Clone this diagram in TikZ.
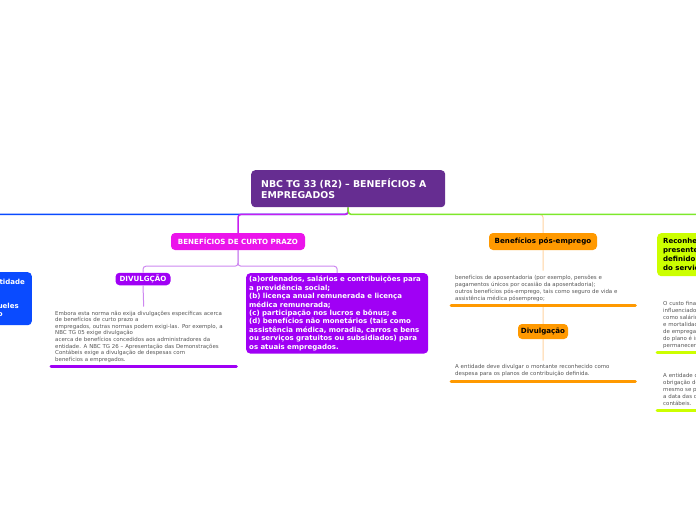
\documentclass[tikz,border=0pt]{standalone}
\usepackage{fontspec}
\setmainfont{DejaVu Sans}
\definecolor{rootc}{RGB}{102,45,145}
\definecolor{bluec}{RGB}{10,75,255}
\definecolor{magc}{RGB}{235,20,235}
\definecolor{violc}{RGB}{160,0,245}
\definecolor{violline}{RGB}{205,135,240}
\definecolor{purpline}{RGB}{200,30,240}
\definecolor{orc}{RGB}{255,153,0}
\definecolor{orline}{RGB}{255,210,160}
\definecolor{limec}{RGB}{204,255,0}
\definecolor{greenl}{RGB}{125,232,44}
\definecolor{graytext}{RGB}{85,85,85}
\tikzset{
  mainline/.style={line width=1.5pt, rounded corners=3pt},
  subline/.style={line width=1pt, rounded corners=3pt},
  topicbox/.style={rounded corners=4pt, font=\fontsize{7.1}{8.5}\selectfont\bfseries, inner sep=0pt, align=center},
  notetext/.style={anchor=north west, align=left, text=graytext, inner xsep=4pt, inner ysep=4pt,
    font=\fontsize{5.45}{7}\selectfont},
  underl/.style={line width=3pt, line cap=round},
}
\begin{document}
\begin{tikzpicture}[x=1pt,y=-1pt]
\useasboundingbox (0,0) rectangle (696,520);
\clip (0,0) rectangle (696,520);

% root
\node[anchor=north west, fill=rootc, rounded corners=4pt, text=white, minimum width=194pt, minimum height=37pt,
  text width=174pt, inner xsep=10pt, inner ysep=0pt, align=left, font=\fontsize{9.4}{10.3}\selectfont\bfseries]
  (root) at (251,170) {NBC TG 33 (R2) – BENEFÍCIOS A\\EMPREGADOS};

% blue branch (cut off at left)
\node[anchor=north east, fill=bluec, rounded corners=4pt, text=white, align=right, inner xsep=7pt, inner ysep=5pt,
  minimum height=53pt, font=\fontsize{7}{8}\selectfont\bfseries]
  (blue) at (32,272) {Benefícios rescisórios: são devidos pela entidade\\
  em razão do término do vínculo\kern40pt\\
  empregatício, e são distintos\kern40pt\\
  dos demais benefícios e daqueles\kern6pt\\
  pós-emprego\kern22pt};

% short-term benefits
\node[topicbox, fill=magc, text=white, minimum width=134pt, minimum height=17pt] (curto) at (238,241.5) {BENEFÍCIOS DE CURTO PRAZO};
\node[topicbox, fill=violc, text=white, minimum width=55pt, minimum height=12.5pt] (divul) at (143,279) {DIVULGÇÃO};
\node[anchor=north west, fill=violc, rounded corners=4pt, text=white, text width=176pt, inner xsep=3pt, inner ysep=3pt,
  align=left, font=\fontsize{7}{8.4}\selectfont\bfseries] (lista) at (246,273)
  {(a)ordenados, salários e contribuições para\\
   a previdência social;\\
   (b) licença anual remunerada e licença\\
   médica remunerada;\\
   (c) participação nos lucros e bônus; e\\
   (d) benefícios não monetários (tais como\\
   assistência médica, moradia, carros e bens\\
   ou serviços gratuitos ou subsidiados) para\\
   os atuais empregados.};
\node[notetext, text width=177pt, font=\fontsize{5.45}{6.6}\selectfont] (t1) at (51,306.5)
  {Embora esta norma não exija divulgações específicas acerca\\
   de benefícios de curto prazo a\\
   empregados, outras normas podem exigi-las. Por exemplo, a\\
   NBC TG 05 exige divulgação\\
   acerca de benefícios concedidos aos administradores da\\
   entidade. A NBC TG 26 – Apresentação das Demonstrações\\
   Contábeis exige a divulgação de despesas com\\
   benefícios a empregados.};

% post-employment
\node[topicbox, fill=orc, text=black, minimum width=108pt, minimum height=17pt] (pos) at (543,241.5) {Benefícios pós-emprego};
\node[notetext, text width=176pt] (o1) at (451,270.5)
  {benefícios de aposentadoria (por exemplo, pensões e\\
   pagamentos únicos por ocasião da aposentadoria);\\
   outros benefícios pós-emprego, tais como seguro de vida e\\
   assistência médica pósemprego;};
\node[topicbox, fill=orc, text=black, minimum width=50pt, minimum height=15pt] (divul2) at (543,331.5) {Divulgação};
\node[notetext, text width=176pt] (o2) at (451,360.5)
  {A entidade deve divulgar o montante reconhecido como\\
   despesa para os planos de contribuição definida.};

% recognition (cut off at right)
\node[anchor=north west, fill=limec, rounded corners=4pt, text=black, text width=170pt, inner xsep=6pt, inner ysep=2pt,
  minimum height=43pt, align=left, font=\fontsize{7}{9}\selectfont\bfseries] (recon) at (657,233)
  {Reconhecimento e mensuração: valor\\
   presente das obrigações de benefício\\
   definido e custo\\
   do serviço corrente};
\node[notetext, text width=200pt, inner xsep=6pt] (g1) at (657,296.5)
  {O custo final de um plano de benefício definido pode ser\\
   influenciado por muitas variáveis, tais\\
   como salários finais, rotatividade\\
   e mortalidade de empregados, contribuições\\
   de empregados e tendências de custos médicos. O custo final\\
   do plano é incerto e essa incerteza provavelmente\\
   permanecerá por longo período de tempo.};
\node[notetext, text width=200pt, inner xsep=6pt] (g2) at (657,369.5)
  {A entidade deve determinar o valor presente da\\
   obrigação de benefício definido com regularidade suficiente\\
   mesmo se parte dos valores reconhecidos não difira\\
   a data das demonstrações\\
   contábeis.};

% main connectors
\draw[mainline, bluec] (root.south) -- ++(0,7) -| (blue.north);
\draw[mainline, purpline] (root.south) -- ++(0,7) -| (curto.north);
\draw[subline, orline] (root.south) -- ++(0,7) -| (pos.north);
\draw[mainline, greenl] (root.south) -- ++(0,7) -| (recon.north);

% sub connectors
\draw[subline, violline] (curto.south) -- ++(0,16) -| (divul.north);
\draw[subline, violline] (curto.south) -- ++(0,16) -| (lista.north);
\draw[subline, violline] (divul.south) -- (t1.north);
\draw[subline, orline] (pos.south) -- (o1.north);
\draw[subline, orline] (o1.south) -- (divul2.north);
\draw[subline, orline] (divul2.south) -- (o2.north);
\draw[subline, greenl] (recon.south) -- (g1.north);
\draw[subline, greenl] (g1.south) -- (g2.north);

% underlines
\draw[underl, violc] (t1.south west) -- (t1.south east);
\draw[underl, orc] (o1.south west) -- (o1.south east);
\draw[underl, orc] (o2.south west) -- (o2.south east);
\draw[underl, limec] (g1.south west) -- (g1.south east);
\draw[underl, limec] (g2.south west) -- (g2.south east);
\end{tikzpicture}
\end{document}
